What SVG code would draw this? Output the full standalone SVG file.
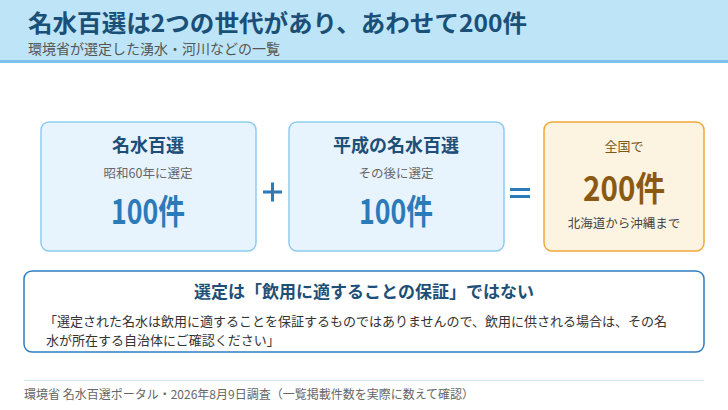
<svg xmlns="http://www.w3.org/2000/svg" width="728" height="410" viewBox="0 0 728 410">
<style>
text{font-family:"Noto Sans CJK JP","Noto Sans",sans-serif}
.card{fill:#e8f4fd;stroke:#8ccbef;stroke-width:1.5}
.total{fill:#fdf3e1;stroke:#f0a838;stroke-width:1.5}
.ctitle{font-size:18px;font-weight:700;fill:#1d4f78;text-anchor:middle}
.csub{font-size:12.5px;fill:#666;text-anchor:middle}
.cnum{font-size:34px;font-weight:700;fill:#2b7bba;text-anchor:middle}
.op{stroke:#2b7bba;stroke-width:3;fill:none}
</style>
<rect x="0" y="0" width="728" height="61" fill="#bee4f8"/>
<rect x="0" y="60" width="728" height="3" fill="#7ec2ec"/>
<text x="28" y="32" font-size="24" font-weight="700" fill="#1a5077" textLength="499" lengthAdjust="spacingAndGlyphs">名水百選は2つの世代があり、あわせて200件</text>
<text x="28" y="54" font-size="14" fill="#555">環境省が選定した湧水・河川などの一覧</text>

<g id="node-meisui">
<rect class="card" x="41" y="122" width="215" height="129" rx="8"/>
<text class="ctitle" x="148" y="152">名水百選</text>
<text class="csub" x="148" y="178">昭和60年に選定</text>
<text class="cnum" x="148" y="224" textLength="74" lengthAdjust="spacingAndGlyphs">100件</text>
</g>
<g id="node-heisei">
<rect class="card" x="289" y="122" width="215" height="129" rx="8"/>
<text class="ctitle" x="396" y="152">平成の名水百選</text>
<text class="csub" x="396" y="178">その後に選定</text>
<text class="cnum" x="396" y="224" textLength="74" lengthAdjust="spacingAndGlyphs">100件</text>
</g>
<g id="connectors">
<path class="op" d="M263 192H282M272.5 182.5V201.5"/>
<path class="op" d="M510 189.5H530M510 196.5H530"/>
</g>
<g id="node-total">
<rect class="total" x="544" y="122" width="160" height="129" rx="8"/>
<text x="624" y="151" font-size="13" fill="#7a5618" text-anchor="middle">全国で</text>
<text x="624" y="201" font-size="34" font-weight="700" fill="#8a5a12" text-anchor="middle" textLength="82" lengthAdjust="spacingAndGlyphs">200件</text>
<text x="624" y="228" font-size="12.5" fill="#444" text-anchor="middle">北海道から沖縄まで</text>
</g>
<g id="node-note">
<rect x="24" y="271" width="680" height="81" rx="8" fill="#fff" stroke="#2f7cc1" stroke-width="1.5"/>
<text x="364" y="298" font-size="17" font-weight="700" fill="#1d4f78" text-anchor="middle">選定は「飲用に適することの保証」ではない</text>
<text x="44" y="326" font-size="13" fill="#333">「選定された名水は飲用に適することを保証するものではありませんので、飲用に供される場合は、その名</text>
<text x="46" y="345" font-size="13" fill="#333">水が所在する自治体にご確認ください」</text>
</g>
<rect x="24" y="380" width="680" height="1" fill="#cfe2ef"/>
<text x="24" y="399" font-size="12" fill="#666">環境省 名水百選ポータル・2026年8月9日調査（一覧掲載件数を実際に数えて確認）</text>
</svg>
